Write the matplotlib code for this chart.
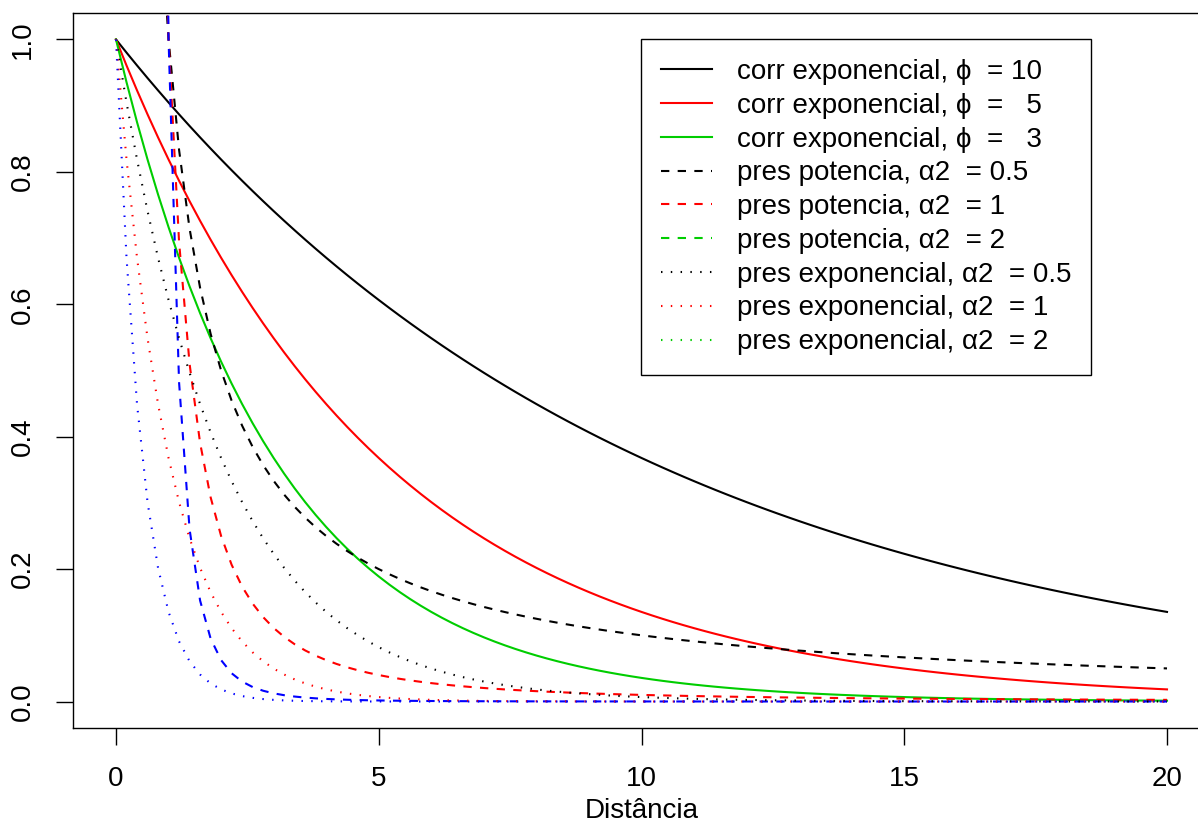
import numpy as np
import matplotlib
matplotlib.use("Agg")
import matplotlib.pyplot as plt
from matplotlib.lines import Line2D

plt.rcParams['font.family'] = ['Liberation Sans', 'DejaVu Sans']

phi = [10, 5, 3]
alpha2 = [0.5, 1, 2]
cores_corr = ["black", "red", "#00CD00"]
cores_pres = ["black", "red", "blue"]
cores_leg = ["black", "red", "#00CD00"]

# grade de distancias (curve() do R, n=101)
d = np.linspace(0, 20, 101)

fig = plt.figure(figsize=(11.98, 8.23), dpi=100)
# a caixa do grafico passa da borda direita da figura (imagem recortada)
direita = 1210
ax = fig.add_axes([73/1198, 1-728/823, (direita-73)/1198, 715/823])

fs = 20
lw = 1.5
tracejado = (4, 4)
pontilhado = (0.7, 4.0)

for p, c in zip(phi, cores_corr):
    ax.plot(d, np.exp(-d/p), color=c, lw=lw)

with np.errstate(divide="ignore"):
    for a, c in zip(alpha2, cores_pres):
        y = np.where(d > 0, d**(-2*a), np.nan)
        ax.plot(d, y, color=c, lw=lw, dashes=tracejado)

for a, c in zip(alpha2, cores_pres):
    ax.plot(d, np.exp(-a*d), color=c, lw=lw, dashes=pontilhado)

ax.set_xlim(-43/52.55, (direita-116)/52.55)
ax.set_ylim(-0.04, 1.04)
ax.set_xticks([0, 5, 10, 15, 20])
ax.set_yticks([0, 0.2, 0.4, 0.6, 0.8, 1.0])
ax.set_yticklabels(["0.0", "0.2", "0.4", "0.6", "0.8", "1.0"], rotation=90, va="center")
ax.tick_params(length=12, width=1.0, labelsize=fs, pad=15)
for s in ax.spines.values():
    s.set_linewidth(1.0)
ax.set_xlabel("Distância", fontsize=fs, labelpad=5)

# legenda
handles = []
labels = []
for p, c in zip(phi, cores_leg):
    handles.append(Line2D([], [], color=c, lw=lw))
    labels.append("corr exponencial, ϕ  = %s" % str(p).rjust(2, "\u2007"))
for a, c in zip(alpha2, cores_leg):
    handles.append(Line2D([], [], color=c, lw=lw, dashes=tracejado))
    labels.append("pres potencia, α2  = %g" % a)
for a, c in zip(alpha2, cores_leg):
    handles.append(Line2D([], [], color=c, lw=lw, dashes=pontilhado))
    labels.append("pres exponencial, α2  = %g" % a)

leg = ax.legend(handles, labels, loc="upper left",
                bbox_to_anchor=(641/1198, 1-39/823), bbox_transform=fig.transFigure,
                fontsize=fs, frameon=True, fancybox=False, edgecolor="black",
                framealpha=1, handlelength=1.83, handletextpad=0.9,
                borderpad=0.72, labelspacing=0.28, borderaxespad=0)
leg.get_frame().set_linewidth(1.0)

fig.savefig("out.png", dpi=100)
